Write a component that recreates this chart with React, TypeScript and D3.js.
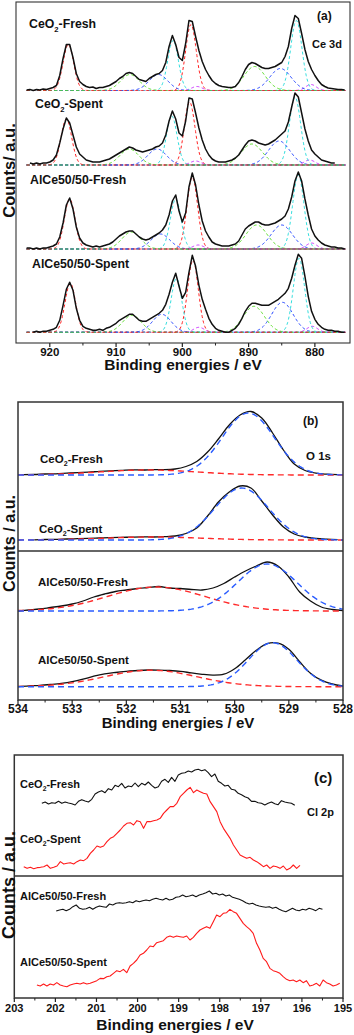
import React from 'react';
import * as d3 from 'd3';

const FONT = "'Liberation Sans', Arial, Helvetica, sans-serif";

// ---------------- Panel (a): Ce 3d ----------------
const ceSamples = ['CeO2-Fresh', 'CeO2-Spent', 'AlCe50/50-Fresh', 'AlCe50/50-Spent'];
const ceStart = [923.5, 923, 923.5, 922.5];
const ceStep = 0.5;
const ceBaseline = [252.5, 178, 94, 10.7];
const ceFreshA = [0.5,1,0,1,0.5,1.5,1,2,3,5, 15,32,46,46,33,17,9,6,4,3, 3.5,2,3,3,4,5,7,9,12,14, 17,18,17,14,11,10,9,12,14,16, 17,20,28,44,55,46,33,30,47,70, 69,54,40,29,21,15,10,7,5,4, 3.5,3,3,4,8,14,21,26,28,27, 25,23,22,22,23,24,26,28,34,44, 62,75,72,57,41,29,21,15,10,6, 4,2.5,2,1.5,1,1,0.5];
const ceSpentA = [2,1,2,1,2,2,3,5,10,22, 36,47,42,30,18,11,8,5,4,3, 3,3,4,5,6,8,10,12,14,16, 18,17,15,14,13,14,15,16,18,19, 22,30,44,54,46,32,29,44,67,66, 52,37,25,16,10,6,4,3,3,3, 4,5,7,10,15,20,24,25,24,22, 21,20,21,23,25,28,31,34,43,58, 72,68,52,36,24,15,11,8,5,4, 3,2,2];
const alFreshA = [1,1,0,1,0,1,1,2,3,5, 12,26,44,51,40,22,11,6,4,3, 2,3,2,3,4,5,7,10,13,15, 17,18,18,15,12,10,9,10,12,14, 16,19,24,34,48,54,38,27,36,62, 76,64,44,28,18,12,7,5,4,3, 3,3,4,5,8,14,20,23,25,27, 27,25,24,24,25,26,28,30,33,40, 52,68,77,68,50,34,20,13,9,6, 4,3,2,2,1,1,0];
const alSpentA = [0,1,0,1,1,2,3,5,12,27, 43,50,42,24,12,6,4,3,2,2, 3,2,4,5,7,9,12,14,16,18, 18,15,12,11,11,13,15,17,19,22, 28,38,50,59,46,34,40,60,77,66, 47,33,23,14,8,4,2,1,0,0, 2,4,8,14,21,26,29,29,28,27, 27,27,29,31,33,36,39,44,54,67, 78,74,56,36,21,13,8,5,3,2, 2,1,1,0,0];
const ceSeries = [ceFreshA, ceSpentA, alFreshA, alSpentA];
// fitted components: [centre eV, height, sigma]  (v0, v, v', v'', v''', u0, u, u', u'', u''')
const ceFreshPeaks = [[880.6,6,0.8],[882.8,70,0.85],[885.2,22,1.6],[889.1,24,1.6],[898.7,66,0.8],[897.8,4,0.8],[901.4,50,0.8],[903.6,16,1.4],[907.9,16,1.4],[917.2,46,0.8]];
const ceSpentPeaks = [[880.8,5,0.8],[883.0,68,0.85],[885.4,24,1.6],[889.5,21,1.6],[898.9,63,0.8],[898.0,4,0.8],[901.6,49,0.8],[903.8,16,1.4],[908.0,16,1.4],[917.5,46,0.8]];
const alFreshPeaks = [[880.5,6,0.8],[882.5,74,0.85],[885.0,24,1.6],[888.8,24,1.6],[898.5,72,0.8],[897.6,4,0.8],[901.0,50,0.8],[903.3,15,1.4],[907.7,17,1.4],[917.0,50,0.8]];
const alSpentPeaks = [[880.4,6,0.8],[882.4,74,0.85],[884.9,30,1.6],[889.2,26,1.6],[898.4,72,0.8],[897.5,5,0.8],[900.9,54,0.8],[903.1,18,1.4],[907.6,17,1.4],[916.9,49,0.8]];
const cePeaks = [ceFreshPeaks, ceSpentPeaks, alFreshPeaks, alSpentPeaks];
const cePeakColors = ['#cc33ff', '#33dede', '#2244ff', '#55dd22', '#ff2222', '#cc33ff', '#33dede', '#2244ff', '#55dd22', '#ff2222'];
const ceTicks = [920, 910, 900, 890, 880];
const ceMinor = [915, 905, 895, 885];

// ---------------- Panel (b): O 1s ----------------
const oSamples = ['CeO2-Fresh', 'CeO2-Spent', 'AlCe50/50-Fresh', 'AlCe50/50-Spent'];
const oStart = [533.9, 533.7, 534.0, 534.0];
const oStep = 0.2;
const oBaseline = [225, 160, 89, 13.3];
const oCeFresh = [0.3,0.5,1.0,1.2,1.8,2.4,2.8,3.6,4.2,4.6, 5.2,5.0,5.4,5.3,6.0,8.5,13.5,23,36,50, 60,63.5,57,42,25,11,4.5,1.8,0.8,0.3];
const oCeSpent = [0.2,0.5,0.6,1.0,1.3,1.6,2.0,2.4,2.6,2.9, 3.1,3.0,3.3,4.0,6.5,12,24,38,48,54, 52,39,25,13,6,3,1.5,0.8,0.4];
const oAlFresh = [0,1,2,3.5,5,7,10,14,17,19.5, 21,22.5,23.5,24.5,23,22.5,21.5,21,23,27.5, 34,40,45,49,45,34,19,10,4,1.5, 0.5];
const oAlSpent = [0,0.8,1.3,2.2,3.3,5,7.5,10.5,12.8,14.2, 15.3,16.2,16.7,16.6,16.2,15.4,13.8,12.4,11.6,12.5, 18,27,36.5,43,43.5,37.5,25,13.5,6.5,2.7, 0.7];
const oSeries = [oCeFresh, oCeSpent, oAlFresh, oAlSpent];
const oPeaks = [
  [[531.6, 5, 0.9], [529.75, 62, 0.48]],
  [[531.5, 3, 0.9], [529.87, 52, 0.5]],
  [[531.45, 24, 0.9], [529.4, 47, 0.55]],
  [[531.55, 16.5, 0.85], [529.3, 44, 0.45]],
];
const oPeakColors = ['#ff2a2a', '#2a5cff'];
const oTicks = [534, 533, 532, 531, 530, 529, 528];
const oMinor = [533.5, 532.5, 531.5, 530.5, 529.5, 528.5];

// ---------------- Panel (c): Cl 2p ----------------
const clSamples = ['CeO2-Fresh', 'CeO2-Spent', 'AlCe50/50-Fresh', 'AlCe50/50-Spent'];
const clStart = [202.33, 202.77, 201.98, 202.45];
const clStep = 0.081;
const clBaseline = [574, 384, 259, 34];
const clCeFresh = [10,14,8,12,10,16,10,14,11,9, 5,16,21,17,14,22,38,44,48,42, 54,50,64,60,70,56,62,60,71,60, 70,65,74,64,56,60,76,82,73,88, 76,95,100,102,107,104,110,112,108,111, 102,90,98,76,70,62,64,52,50,40, 36,30,26,16,16,12,10,5,10,14, 9,6,18,14,12,10,4];
const clCeSpent = [10,5,8,4,7,8,10,15,5,8, 12,25,18,20,22,18,25,30,28,35, 50,60,72,68,72,85,95,100,110,120, 132,140,142,135,148,145,125,145,145,148, 150,155,170,180,190,190,200,220,230,240, 248,232,240,235,230,228,205,190,175,145, 125,110,95,75,60,45,40,35,38,30, 25,18,10,15,5,12,10,5,12,0, 5,15,5,14];
const clAlFresh = [2,5,7,3,7,15,20,10,7,9, 13,7,13,17,15,13,23,20,25,27, 25,27,30,27,33,30,33,35,33,37, 40,37,35,40,35,37,43,45,50,45, 47,50,45,50,53,57,62,53,55,50, 53,47,50,43,40,37,33,27,23,25, 20,17,15,13,15,10,13,7,3,0, 5,10,5,3,7,5,10,7,3,10, 7];
const clAlSpent = [5,2,8,2,8,5,12,5,2,0, 5,8,10,8,12,8,10,14,18,25, 24,30,32,40,48,45,52,42,62,70, 80,95,100,110,122,120,132,135,138,148, 152,148,152,150,148,152,140,148,160,170, 175,180,175,195,215,210,220,222,232,225, 220,205,190,180,172,160,130,110,85,75, 55,48,45,40,30,22,18,20,15,20, 12,18,2,5,10,2,20,12,8,2, 5,10];
const clSeries = [clCeFresh, clCeSpent, clAlFresh, clAlSpent];
const clColors = ['#111111', '#ff1a1a', '#111111', '#ff1a1a'];
const clTicks = [203, 202, 201, 200, 199, 198, 197, 196, 195];
const clMinor = [202.5, 201.5, 200.5, 199.5, 198.5, 197.5, 196.5, 195.5];

type P = [number, number];
const toPoints = (start: number, step: number, vals: number[]): P[] => vals.map((v, i) => [start - i * step, v]);
const profile = (pk: number[], grid: number[]): P[] =>
  grid.map((e) => [e, pk[1] * Math.exp(-((e - pk[0]) ** 2) / (2 * pk[2] * pk[2]))]);

function Label({ x, y, text, size, anchor }: { x: number; y: number; text: string; size: number; anchor?: string }) {
  const m = text.match(/^(.*?O)2(.*)$/);
  const common = { x, y, fontSize: size, fontWeight: 'bold' as const, fill: '#111', textAnchor: anchor || 'start' };
  if (!m) return <text {...common}>{text}</text>;
  return (
    <text {...common}>
      {m[1]}
      <tspan dy={size * 0.3} fontSize={size * 0.62}>2</tspan>
      <tspan dy={-size * 0.3}>{m[2]}</tspan>
    </text>
  );
}

function XAxis({ x, y0, ticks, minor, labelY, size }: any) {
  return (
    <g>
      {ticks.map((t: number) => (
        <line key={'M' + t} x1={x(t)} x2={x(t)} y1={y0} y2={y0 + 4} stroke="#222" strokeWidth={1.2} />
      ))}
      {minor.map((t: number) => (
        <line key={'m' + t} x1={x(t)} x2={x(t)} y1={y0} y2={y0 + 2.5} stroke="#222" strokeWidth={1} />
      ))}
      {ticks.map((t: number) => (
        <text key={'L' + t} x={x(t)} y={labelY} fontSize={size} fontWeight="bold" textAnchor="middle" fill="#111">
          {t}
        </text>
      ))}
    </g>
  );
}

export default function App() {
  const xA = d3.scaleLinear().domain([925.1, 874.7]).range([16, 350]);
  const yA = d3.scaleLinear().domain([0, 341]).range([343, 2]);
  const xB = d3.scaleLinear().domain([534, 528]).range([18, 343]);
  const yB = d3.scaleLinear().domain([0, 298]).range([700, 402]);
  const xC = d3.scaleLinear().domain([203, 195]).range([14.3, 343]);
  const yC = d3.scaleLinear().domain([0, 729]).range([998, 755]);

  const gridA = d3.range(923.5, 875.4, -0.1);
  const gridB = d3.range(534, 527.99, -0.04);

  const lineGen = (x: any, y: any, off: number, curve: any) =>
    d3.line<P>().x((d) => x(d[0])).y((d) => y(off + d[1])).curve(curve);

  return (
    <svg width={354} height={1035} style={{ position: 'absolute', left: 0, top: 0, background: '#fff' }} fontFamily={FONT}>
      <rect x={0} y={0} width={354} height={1035} fill="#fff" />

      {/* ---------- Panel (a) ---------- */}
      <g>
        {cePeaks.map((pks, s) =>
          pks.map((pk, k) => (
            <path key={`a${s}-${k}`} d={lineGen(xA, yA, ceBaseline[s], d3.curveLinear)(profile(pk, gridA)) || ''}
              fill="none" stroke={cePeakColors[k]} strokeWidth={1} strokeDasharray="3,2.5" />
          ))
        )}
        {ceSeries.map((vals, s) => (
          <path key={`aL${s}`} d={lineGen(xA, yA, ceBaseline[s], d3.curveLinear)(toPoints(ceStart[s], ceStep, vals)) || ''}
            fill="none" stroke="#111" strokeWidth={1.5} strokeLinejoin="round" />
        ))}
        <rect x={16} y={2} width={334} height={341} fill="none" stroke="#333" strokeWidth={1.1} />
        <XAxis x={xA} y0={343} ticks={ceTicks} minor={ceMinor} labelY={355.5} size={11.5} />
        <text x={183} y={370} fontSize={15.5} fontWeight="bold" textAnchor="middle" fill="#111">Binding energies / eV</text>
        <text transform="translate(15,170.5) rotate(-90)" fontSize={16.5} fontWeight="bold" textAnchor="middle" fill="#111">Counts/ a.u.</text>
        <Label x={29} y={28} text={ceSamples[0]} size={12.3} />
        <Label x={35} y={108} text={ceSamples[1]} size={12.3} />
        <Label x={30} y={184} text={ceSamples[2]} size={12.3} />
        <Label x={32} y={268} text={ceSamples[3]} size={12.3} />
        <text x={317} y={20} fontSize={12} fontWeight="bold" fill="#111">(a)</text>
        <text x={312} y={48} fontSize={11} fontWeight="bold" fill="#111">Ce 3d</text>
      </g>

      {/* ---------- Panel (b) ---------- */}
      <g>
        {oSeries.map((vals, s) => (
          <path key={`bL${s}`} d={lineGen(xB, yB, oBaseline[s], d3.curveCatmullRom)(toPoints(oStart[s], oStep, vals)) || ''}
            fill="none" stroke="#111" strokeWidth={1.3} />
        ))}
        {oPeaks.map((pks, s) =>
          pks.map((pk, k) => (
            <path key={`b${s}-${k}`} d={lineGen(xB, yB, oBaseline[s], d3.curveLinear)(profile(pk, gridB)) || ''}
              fill="none" stroke={oPeakColors[k]} strokeWidth={1.4} strokeDasharray="6,4" />
          ))
        )}
        <rect x={18} y={402} width={325} height={298} fill="none" stroke="#333" strokeWidth={1.5} />
        <line x1={18} x2={343} y1={551} y2={551} stroke="#333" strokeWidth={1.3} />
        <XAxis x={xB} y0={700} ticks={oTicks} minor={oMinor} labelY={712.5} size={12} />
        <text x={178} y={728} fontSize={15} fontWeight="bold" textAnchor="middle" fill="#111">Binding energies / eV</text>
        <text transform="translate(15,543.5) rotate(-90)" fontSize={16.2} fontWeight="bold" textAnchor="middle" fill="#111">Counts / a.u.</text>
        <Label x={40} y={463} text={oSamples[0]} size={11.5} />
        <Label x={39} y={533} text={oSamples[1]} size={11.5} />
        <Label x={38} y={585.5} text={oSamples[2]} size={11.5} />
        <Label x={38} y={664} text={oSamples[3]} size={11.5} />
        <text x={303} y={425} fontSize={12} fontWeight="bold" fill="#111">(b)</text>
        <text x={306} y={459.5} fontSize={11.5} fontWeight="bold" fill="#111">O 1s</text>
      </g>

      {/* ---------- Panel (c) ---------- */}
      <g>
        {clSeries.map((vals, s) => (
          <path key={`cL${s}`} d={lineGen(xC, yC, clBaseline[s], d3.curveLinear)(toPoints(clStart[s], clStep, vals)) || ''}
            fill="none" stroke={clColors[s]} strokeWidth={1.1} strokeLinejoin="round" />
        ))}
        <rect x={14.3} y={755} width={328.7} height={243} fill="none" stroke="#333" strokeWidth={1.5} />
        <line x1={14.3} x2={343} y1={876} y2={876} stroke="#333" strokeWidth={1.3} />
        <XAxis x={xC} y0={998} ticks={clTicks} minor={clMinor} labelY={1012} size={11} />
        <text x={175} y={1030} fontSize={15.5} fontWeight="bold" textAnchor="middle" fill="#111">Binding energies / eV</text>
        <text transform="translate(15,885) rotate(-90)" fontSize={18} fontWeight="bold" textAnchor="middle" fill="#111">Counts / a.u.</text>
        <Label x={20} y={788} text={clSamples[0]} size={11} />
        <Label x={20} y={843} text={clSamples[1]} size={11} />
        <Label x={20} y={900} text={clSamples[2]} size={11} />
        <Label x={20} y={966} text={clSamples[3]} size={11} />
        <text x={314} y={783} fontSize={15} fontWeight="bold" fill="#111">(c)</text>
        <text x={307} y={816} fontSize={11} fontWeight="bold" fill="#111">Cl 2p</text>
      </g>
    </svg>
  );
}
